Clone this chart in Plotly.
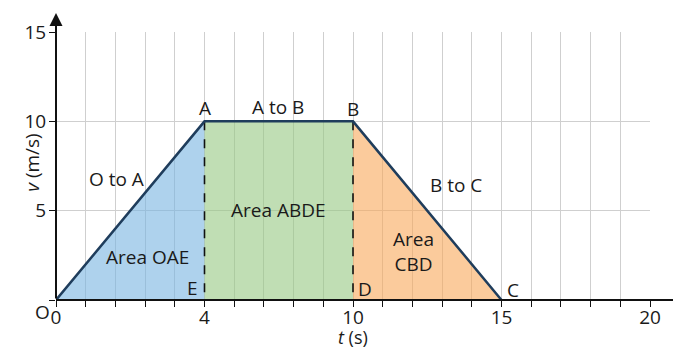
import numpy as np
import plotly.graph_objects as go

# ---- data ----
point_names = ["O", "A", "B", "C"]
t_points = [0, 4, 10, 15]          # time (s)
v_points = [0, 10, 10, 0]          # velocity (m/s)
x_tick_labels = [0, 4, 10, 15, 20]  # labels on the (non-uniform) time axis
x_tick_cells = [0, 5, 10, 15, 20]   # grid position of each labelled tick
y_ticks = [0, 5, 10, 15]

def tpos(t):
    return np.interp(t, x_tick_labels, x_tick_cells)

O, A, B, C = [(tpos(t), v) for t, v in zip(t_points, v_points)]
E = (A[0], 0)
D = (B[0], 0)

LINE = "#1f3d5c"
TXT = "#1a1a1a"
FONT = "Open Sans"
FS = 19

fig = go.Figure()

def poly(pts, color):
    xs = [p[0] for p in pts] + [pts[0][0]]
    ys = [p[1] for p in pts] + [pts[0][1]]
    fig.add_trace(go.Scatter(x=xs, y=ys, fill="toself", fillcolor=color,
                             mode="none", hoverinfo="skip", showlegend=False))

poly([O, A, E], "rgba(120,180,225,0.6)")
poly([E, A, B, D], "rgba(150,200,130,0.6)")
poly([D, B, C], "rgba(248,168,90,0.6)")

# dashed verticals AE, BD
for top, bot in [(A, E), (B, D)]:
    fig.add_trace(go.Scatter(x=[top[0], bot[0]], y=[top[1], bot[1]], mode="lines",
                             line=dict(color="#111", width=1.6, dash="dash"),
                             hoverinfo="skip", showlegend=False))

# velocity graph O-A-B-C
fig.add_trace(go.Scatter(x=[p[0] for p in (O, A, B, C)], y=[p[1] for p in (O, A, B, C)],
                         mode="lines", line=dict(color=LINE, width=2.5),
                         hoverinfo="skip", showlegend=False, cliponaxis=False))

labels = [
    ("A", 5.0, 10.75), ("A to B", 7.48, 10.8), ("B", 10.0, 10.69),
    ("O to A", 2.05, 6.77), ("Area OAE", 3.09, 2.41), ("E", 4.6, 0.67),
    ("Area ABDE", 7.48, 5.04), ("Area<br>CBD", 12.05, 2.71), ("D", 10.4, 0.62),
    ("B to C", 13.46, 6.44), ("C", 15.4, 0.56),
]
for txt, x, y in labels:
    fig.add_annotation(x=x, y=y, text=txt, showarrow=False,
                       font=dict(family=FONT, size=FS, color=TXT),
                       xanchor="center", yanchor="middle")
# origin label (outside the axis range -> paper coords)
fig.add_annotation(x=-0.023, y=-0.045, xref="paper", yref="paper", text="O",
                   showarrow=False, font=dict(family=FONT, size=FS, color=TXT),
                   xanchor="center", yanchor="middle")

# axis titles
fig.add_annotation(x=0.5, y=-0.138, xref="paper", yref="paper", yanchor="middle",
                   text="<i>t</i> (s)", showarrow=False,
                   font=dict(family=FONT, size=18, color=TXT))
fig.add_annotation(x=-0.066, y=0.515, xref="paper", yref="paper", textangle=-90,
                   text="<i>v</i> (m/s)", showarrow=False,
                   font=dict(family=FONT, size=FS, color=TXT))

# x axis line extended past the grid
fig.add_shape(type="line", xref="paper", yref="paper", x0=0, x1=1.04, y0=0, y1=0,
              line=dict(color="#111", width=2), layer="above")
# y axis arrow
fig.add_annotation(x=0, y=1.071, xref="x", yref="paper", ax=0, ay=287,
                   text="", showarrow=True, arrowhead=2, arrowsize=1.3,
                   arrowwidth=2, arrowcolor="#111", standoff=0)

fig.update_xaxes(range=[0, 20], tickvals=x_tick_cells, ticktext=[str(v) for v in x_tick_labels],
                 ticks="outside", ticklen=6, tickwidth=1.2, tickcolor="#111",
                 ticklabelstandoff=-6,
                 showgrid=True, gridcolor="#cfcfcf", gridwidth=1,
                 minor=dict(dtick=1, ticks="outside", ticklen=6, tickwidth=1.2,
                            tickcolor="#111", showgrid=True, gridcolor="#cfcfcf"),
                 zeroline=False, showline=False,
                 tickfont=dict(family=FONT, size=FS, color=TXT))
fig.update_yaxes(range=[0, 15], tickvals=y_ticks, ticktext=["", "5", "10", "15"],
                 ticks="outside", ticklen=6, tickwidth=1.2, tickcolor="#111",
                 ticklabelstandoff=-1,
                 showgrid=True, gridcolor="#cfcfcf", zeroline=False, showline=False,
                 tickfont=dict(family=FONT, size=FS, color=TXT))

fig.update_layout(width=673, height=348, margin=dict(l=56, r=21, t=32, b=48),
                  plot_bgcolor="white", paper_bgcolor="white", showlegend=False)

fig.write_html("out.html", config={"displayModeBar": False},
               post_script="document.body.style.margin='0';document.body.style.padding='0';")
